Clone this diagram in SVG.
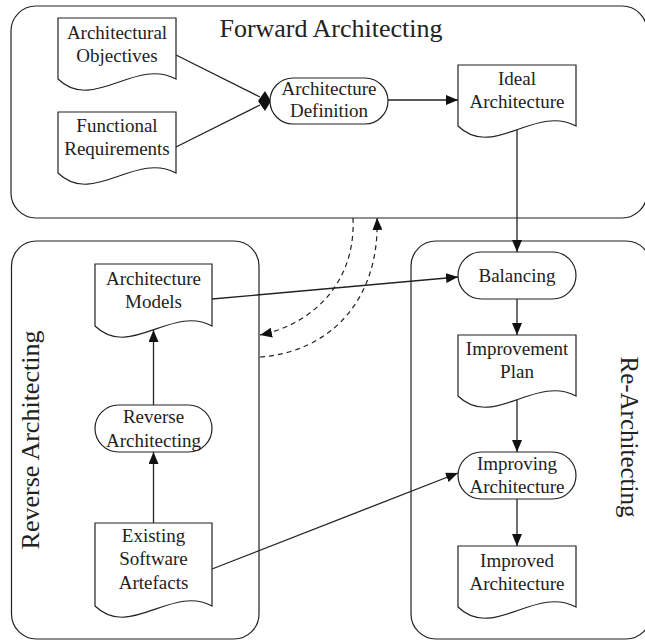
<svg xmlns="http://www.w3.org/2000/svg" width="645" height="640" viewBox="0 0 645 640">
<defs>
<marker id="arr" viewBox="0 0 12 10" refX="12" refY="5" markerWidth="12" markerHeight="10" markerUnits="userSpaceOnUse" orient="auto">
<path d="M0,0 L12,5 L0,10 Z" fill="#111"/>
</marker>
</defs>
<style>
.cont{fill:none;stroke:#222;stroke-width:1.2}
.node{fill:#fff;stroke:#222;stroke-width:1.2}
.t{font-family:"Liberation Serif","Times New Roman",serif;font-size:19px;fill:#222;text-anchor:middle}
.title{font-family:"Liberation Serif","Times New Roman",serif;font-size:26px;fill:#222;text-anchor:middle}
.c{fill:none;stroke:#222;stroke-width:1.3}
.d{fill:none;stroke:#222;stroke-width:1.2;stroke-dasharray:5,4}
</style>
<rect width="645" height="640" fill="#fff"/>
<g id="forward-container">
<rect class="cont" x="11" y="6" width="636" height="212" rx="25"/>
<text class="title" x="331" y="37">Forward Architecting</text>
</g>
<g id="reverse-container">
<rect class="cont" x="11.5" y="241" width="247.5" height="398" rx="25"/>
<text class="title" transform="translate(39,440) rotate(-90)">Reverse Architecting</text>
</g>
<g id="re-container">
<rect class="cont" x="411" y="241" width="240" height="398" rx="25"/>
<text class="title" style="font-size:25px" transform="translate(621,437) rotate(90)">Re-Architecting</text>
</g>
<g id="connectors">
<path class="c" d="M176,55 L260,97"/>
<path class="c" d="M176,147 L260,105"/>
<polygon points="258,101 265,91 271,101 265,111" fill="#111"/>
<path class="c" d="M388,100 L458,100" marker-end="url(#arr)"/>
<path class="c" d="M517,130 L517,252" marker-end="url(#arr)"/>
<path class="c" d="M517,299 L517,335" marker-end="url(#arr)"/>
<path class="c" d="M517,400 L517,452" marker-end="url(#arr)"/>
<path class="c" d="M517,499 L517,546" marker-end="url(#arr)"/>
<path class="c" d="M212,299 L458,277" marker-end="url(#arr)"/>
<path class="c" d="M212,569 L458,473" marker-end="url(#arr)"/>
<path class="c" d="M153.5,405 L153.5,330" marker-end="url(#arr)"/>
<path class="c" d="M153.5,523 L153.5,452" marker-end="url(#arr)"/>
<path class="d" d="M353,218 C356,285 310,325 260,335" marker-end="url(#arr)"/>
<path class="d" d="M260,357 C330,352 380,300 377,218" marker-end="url(#arr)"/>
</g>
<g id="architectural-objectives">
<path class="node" d="M58,18 H176 V79 C135,57 93,113 58,79 Z"/>
<text class="t" x="117" y="39">Architectural</text>
<text class="t" x="117" y="62">Objectives</text>
</g>
<g id="functional-requirements">
<path class="node" d="M58,112 H176 V173 C135,151 93,207 58,173 Z"/>
<text class="t" x="117" y="132">Functional</text>
<text class="t" x="117" y="155">Requirements</text>
</g>
<g id="architecture-definition">
<rect class="node" x="270" y="78" width="118" height="46" rx="23"/>
<text class="t" x="329" y="95">Architecture</text>
<text class="t" x="329" y="117">Definition</text>
</g>
<g id="ideal-architecture">
<path class="node" d="M458,65 H576 V126 C535,104 493,160 458,126 Z"/>
<text class="t" x="517" y="85">Ideal</text>
<text class="t" x="517" y="108">Architecture</text>
</g>
<g id="balancing">
<rect class="node" x="458" y="252" width="118" height="47" rx="23.5"/>
<text class="t" x="517" y="282">Balancing</text>
</g>
<g id="improvement-plan">
<path class="node" d="M458,335 H576 V396 C535,374 493,430 458,396 Z"/>
<text class="t" x="517" y="355">Improvement</text>
<text class="t" x="517" y="378">Plan</text>
</g>
<g id="improving-architecture">
<rect class="node" x="458" y="452" width="118" height="47" rx="23.5"/>
<text class="t" x="517" y="470">Improving</text>
<text class="t" x="517" y="493">Architecture</text>
</g>
<g id="improved-architecture">
<path class="node" d="M458,546 H576 V607 C535,585 493,641 458,607 Z"/>
<text class="t" x="517" y="567">Improved</text>
<text class="t" x="517" y="590">Architecture</text>
</g>
<g id="architecture-models">
<path class="node" d="M95,264 H212 V326 C172,304 130,360 95,326 Z"/>
<text class="t" x="153.5" y="285">Architecture</text>
<text class="t" x="153.5" y="308">Models</text>
</g>
<g id="reverse-architecting">
<rect class="node" x="95" y="405" width="117" height="47" rx="23.5"/>
<text class="t" x="153.5" y="423">Reverse</text>
<text class="t" x="153.5" y="447">Architecting</text>
</g>
<g id="existing-software-artefacts">
<path class="node" d="M95,523 H212 V606 C172,584 130,640 95,606 Z"/>
<text class="t" x="153.5" y="542">Existing</text>
<text class="t" x="153.5" y="565">Software</text>
<text class="t" x="153.5" y="589">Artefacts</text>
</g>
</svg>
